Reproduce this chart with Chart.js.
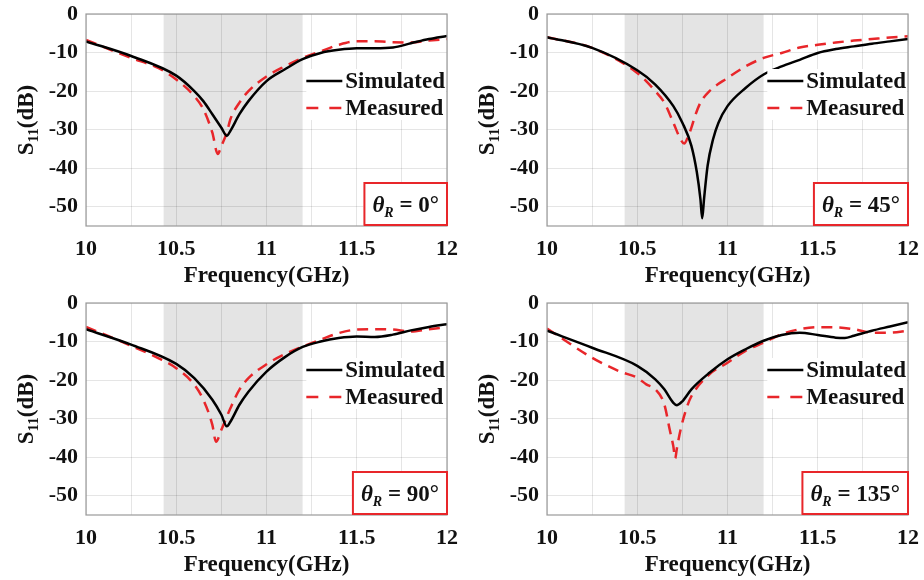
<!DOCTYPE html>
<html>
<head>
<meta charset="utf-8">
<script src="https://cdn.jsdelivr.net/npm/chart.js@4.4.1/dist/chart.umd.min.js"></script>
<style>
    body { margin: 0; background: #fff; }
    .panel { position: absolute; width: 462px; height: 290px; }
</style>
</head>
<body>
<div class="panel" style="left:0;top:0"><canvas id="c0"></canvas></div>
<div class="panel" style="left:461px;top:0"><canvas id="c1"></canvas></div>
<div class="panel" style="left:0;top:289px"><canvas id="c2"></canvas></div>
<div class="panel" style="left:461px;top:289px"><canvas id="c3"></canvas></div>
<script>
// axis ticks
const xGridValues = [10, 10.25, 10.5, 10.75, 11, 11.25, 11.5, 11.75, 12];
const xTickLabels = ['10', '10.5', '11', '11.5', '12'];
const yTickValues = [0, -10, -20, -30, -40, -50];
const bandRange = [10.43, 11.2];
const angleLabels = ['0°', '45°', '90°', '135°'];
const seriesNames = ['Simulated', 'Measured'];

// theta_R = 0
const simFreq0 = [10, 10.25, 10.5, 10.6, 10.65, 10.7, 10.75, 10.78, 10.8, 10.85, 10.9, 11, 11.1, 11.2, 11.3, 11.4, 11.5, 11.6, 11.7, 11.8, 11.9, 12];
const simDb0 = [-7.1, -10.9, -16, -20, -22.6, -26, -29.5, -31.6, -30.3, -26, -22.6, -17.4, -14.4, -11.7, -10.1, -9.3, -8.9, -8.9, -8.7, -7.6, -6.5, -5.7];
const measFreq0 = [10, 10.25, 10.4, 10.5, 10.6, 10.65, 10.7, 10.73, 10.75, 10.78, 10.8, 10.85, 10.9, 11, 11.1, 11.2, 11.3, 11.4, 11.5, 11.6, 11.7, 11.8, 11.9, 12];
const measDb0 = [-6.7, -11.4, -14, -17, -21.3, -24.7, -30.8, -36.3, -34.2, -30.8, -27.3, -23, -20, -16.2, -13.6, -11.4, -9.7, -8, -7.1, -7.1, -7.3, -7.4, -6.9, -6.5];

// theta_R = 45
const simFreq1 = [10, 10.25, 10.5, 10.6, 10.7, 10.75, 10.8, 10.83, 10.85, 10.86, 10.87, 10.89, 10.92, 10.95, 11, 11.1, 11.2, 11.3, 11.4, 11.5, 11.6, 11.7, 11.8, 11.9, 12];
const simDb1 = [-6, -8.8, -14.6, -18.3, -23.9, -28.2, -34.2, -41, -48, -53, -48, -39.3, -32.5, -28.2, -23.9, -19.2, -15.7, -13.6, -11.9, -10.1, -9.1, -8.4, -7.7, -7.1, -6.5];
const measFreq1 = [10, 10.25, 10.5, 10.6, 10.65, 10.7, 10.74, 10.76, 10.78, 10.8, 10.82, 10.85, 10.9, 11, 11.1, 11.2, 11.3, 11.4, 11.5, 11.6, 11.7, 11.8, 11.9, 12];
const measDb1 = [-6, -8.8, -15.3, -20, -23, -28.2, -32.5, -33.6, -32, -29.5, -26.5, -23, -20, -16.6, -13.6, -11.4, -10.1, -8.7, -8, -7.4, -6.9, -6.5, -6.1, -5.8];

// theta_R = 90
const simFreq2 = [10, 10.25, 10.5, 10.6, 10.7, 10.75, 10.78, 10.8, 10.85, 10.9, 11, 11.1, 11.2, 11.3, 11.4, 11.5, 11.6, 11.7, 11.8, 11.9, 12];
const simDb2 = [-6.8, -10.8, -15.8, -19.5, -25.1, -29, -32, -30.8, -26.4, -23, -17.8, -14.1, -11.4, -10, -9.1, -8.7, -8.8, -8.2, -7.1, -6.2, -5.5];
const measFreq2 = [10, 10.25, 10.4, 10.5, 10.6, 10.65, 10.7, 10.72, 10.75, 10.8, 10.85, 10.9, 11, 11.1, 11.2, 11.3, 11.4, 11.5, 11.6, 11.7, 11.8, 11.9, 12];
const measDb2 = [-6.2, -11.1, -14.3, -16.9, -21.2, -25.1, -31.6, -36, -32.9, -27.3, -22.5, -19.5, -15.9, -13.3, -11.3, -9.5, -7.8, -6.9, -6.8, -6.9, -7.4, -6.8, -6.3];

// theta_R = 135
const simFreq3 = [10, 10.25, 10.5, 10.6, 10.65, 10.7, 10.72, 10.75, 10.8, 10.9, 11, 11.1, 11.2, 11.3, 11.4, 11.5, 11.6, 11.65, 11.7, 11.8, 11.9, 12];
const simDb3 = [-7.2, -11.6, -16.3, -19.8, -22.4, -25.9, -26.5, -25.5, -22.4, -18.1, -14.6, -12, -9.8, -8.3, -7.7, -8.3, -9, -9.1, -8.5, -7.2, -6.1, -5];
const measFreq3 = [10, 10.25, 10.4, 10.5, 10.55, 10.6, 10.65, 10.68, 10.7, 10.71, 10.72, 10.74, 10.77, 10.8, 10.9, 11, 11.1, 11.2, 11.3, 11.4, 11.5, 11.6, 11.7, 11.8, 11.9, 12];
const measDb3 = [-6.6, -14.2, -17.7, -19.4, -21.1, -22.4, -26.3, -32.9, -37.2, -40.3, -37.6, -32.9, -27.7, -24.2, -18.5, -15.5, -12.4, -10.3, -8.1, -6.8, -6.3, -6.3, -6.8, -7.7, -7.7, -7.2];

const simFreqs = [simFreq0, simFreq1, simFreq2, simFreq3];
const simDbs = [simDb0, simDb1, simDb2, simDb3];
const measFreqs = [measFreq0, measFreq1, measFreq2, measFreq3];
const measDbs = [measDb0, measDb1, measDb2, measDb3];

const FONT = '"Liberation Serif", "Times New Roman", serif';
const RED = '#e8262a';

const toPoints = (xs, ys) => xs.map((x, i) => ({ x: x, y: ys[i] }));

// shaded band + frame + legend + theta box + y title
const decorPlugin = {
    id: 'decor',
    beforeDraw(chart) {
        const { ctx, chartArea: a, scales: { x } } = chart;
        ctx.save();
        ctx.fillStyle = '#e4e4e4';
        const x0 = x.getPixelForValue(bandRange[0]);
        const x1 = x.getPixelForValue(bandRange[1]);
        ctx.fillRect(x0, a.top, x1 - x0, a.bottom - a.top);
        ctx.restore();
    },
    afterDatasetsDraw(chart, args, opts) {
        const { ctx, chartArea: a } = chart;
        ctx.save();
        // frame
        ctx.strokeStyle = '#9a9a9a';
        ctx.lineWidth = 1.2;
        ctx.strokeRect(a.left, a.top, a.right - a.left, a.bottom - a.top);

        // legend
        ctx.font = 'bold 23px ' + FONT;
        const textRight = a.right - 2;
        const tw = Math.max(ctx.measureText(seriesNames[0]).width, ctx.measureText(seriesNames[1]).width);
        const textLeft = textRight - tw;
        const lineL = textLeft - 39, lineR = textLeft - 3;
        const rows = [a.top + 67, a.top + 94];
        ctx.fillStyle = '#fff';
        ctx.fillRect(lineL, rows[0] - 12, a.right - lineL - 1, rows[1] - rows[0] + 24);
        ctx.lineWidth = 2.5;
        ctx.strokeStyle = '#000';
        ctx.beginPath(); ctx.moveTo(lineL, rows[0]); ctx.lineTo(lineR, rows[0]); ctx.stroke();
        ctx.strokeStyle = RED;
        ctx.setLineDash([12, 11]);
        ctx.beginPath(); ctx.moveTo(lineL, rows[1]); ctx.lineTo(lineR, rows[1]); ctx.stroke();
        ctx.setLineDash([]);
        ctx.fillStyle = '#111';
        ctx.textBaseline = 'middle';
        ctx.textAlign = 'left';
        ctx.fillText(seriesNames[0], textLeft, rows[0] + 1);
        ctx.fillText(seriesNames[1], textLeft, rows[1] + 1);

        // theta box
        const rest = ' = ' + opts.angle;
        ctx.font = 'italic bold 23px ' + FONT;
        const wTheta = ctx.measureText('θ').width;
        ctx.font = 'italic bold 14px ' + FONT;
        const wR = ctx.measureText('R').width;
        ctx.font = 'bold 23px ' + FONT;
        const wRest = ctx.measureText(rest).width;
        const total = wTheta + wR + wRest;
        const boxW = total + 18, boxH = 44;
        const bx = a.right - boxW + 1, by = a.bottom - boxH;
        ctx.fillStyle = '#fff';
        ctx.fillRect(bx, by, boxW, boxH);
        ctx.strokeStyle = RED;
        ctx.lineWidth = 2;
        ctx.strokeRect(bx + 1, by + 1, boxW - 2, boxH - 2);
        const base = by + boxH / 2 + 8;
        let tx = bx + 9;
        ctx.fillStyle = '#111';
        ctx.textBaseline = 'alphabetic';
        ctx.font = 'italic bold 23px ' + FONT;
        ctx.fillText('θ', tx, base); tx += wTheta;
        ctx.font = 'italic bold 14px ' + FONT;
        ctx.fillText('R', tx, base + 5); tx += wR;
        ctx.font = 'bold 23px ' + FONT;
        ctx.fillText(rest, tx, base);

        // y axis title S11(dB)
        ctx.translate(25, a.top + 106);
        ctx.rotate(-Math.PI / 2);
        ctx.font = 'bold 23px ' + FONT;
        const wS = ctx.measureText('S').width;
        const wDb = ctx.measureText('(dB)').width;
        ctx.font = 'bold 15px ' + FONT;
        const w11 = ctx.measureText('11').width;
        let px = -(wS + w11 + wDb) / 2;
        ctx.font = 'bold 23px ' + FONT;
        ctx.fillText('S', px, 8); px += wS;
        ctx.font = 'bold 15px ' + FONT;
        ctx.fillText('11', px, 13); px += w11;
        ctx.font = 'bold 23px ' + FONT;
        ctx.fillText('(dB)', px, 8);
        ctx.restore();
    }
};

function buildPanel(i) {
    const ctx = document.getElementById('c' + i).getContext('2d');
    new Chart(ctx, {
        type: 'line',
        data: {
            datasets: [{
                label: seriesNames[0],
                data: toPoints(simFreqs[i], simDbs[i]),
                borderColor: '#000',
                borderWidth: 2.5,
                pointRadius: 0,
                cubicInterpolationMode: 'monotone',
                order: 1
            }, {
                label: seriesNames[1],
                data: toPoints(measFreqs[i], measDbs[i]),
                borderColor: RED,
                borderWidth: 2.5,
                borderDash: [11, 7],
                pointRadius: 0,
                cubicInterpolationMode: 'monotone',
                order: 2
            }]
        },
        options: {
            responsive: true,
            maintainAspectRatio: false,
            animation: false,
            layout: { padding: { top: 14, right: 15, left: 0, bottom: 0 } },
            plugins: {
                legend: { display: false },
                tooltip: { enabled: false },
                decor: { angle: angleLabels[i] }
            },
            scales: {
                x: {
                    type: 'linear',
                    min: 10,
                    max: 12,
                    afterBuildTicks: (scale) => { scale.ticks = xGridValues.map(v => ({ value: v })); },
                    afterFit: (scale) => {
                        scale.height = 64;
                        scale.paddingLeft = 0;
                        scale.paddingRight = 0;
                    },
                    grid: { color: 'rgba(0,0,0,0.1)', drawTicks: false },
                    border: { display: false },
                    ticks: {
                        autoSkip: false,
                        maxRotation: 0,
                        padding: 10,
                        color: '#111',
                        font: { family: FONT, size: 22, weight: 'bold' },
                        callback: (v) => {
                            const k = xTickLabels.indexOf(String(v));
                            return k >= 0 ? xTickLabels[k] : '';
                        }
                    },
                    title: {
                        display: true,
                        text: 'Frequency(GHz)',
                        color: '#111',
                        padding: { top: 0, bottom: 0 },
                        font: { family: FONT, size: 23, weight: 'bold' }
                    }
                },
                y: {
                    min: -55,
                    max: 0,
                    afterBuildTicks: (scale) => { scale.ticks = yTickValues.map(v => ({ value: v })); },
                    afterFit: (scale) => {
                        scale.width = 86;
                        scale.paddingTop = 0;
                        scale.paddingBottom = 0;
                    },
                    grid: { color: 'rgba(0,0,0,0.1)', drawTicks: false },
                    border: { display: false },
                    ticks: {
                        padding: 8,
                        color: '#111',
                        font: { family: FONT, size: 22, weight: 'bold' }
                    }
                }
            }
        },
        plugins: [decorPlugin]
    });
}

document.addEventListener('DOMContentLoaded', () => {
    [0, 1, 2, 3].forEach(buildPanel);
});
</script>
</body>
</html>
